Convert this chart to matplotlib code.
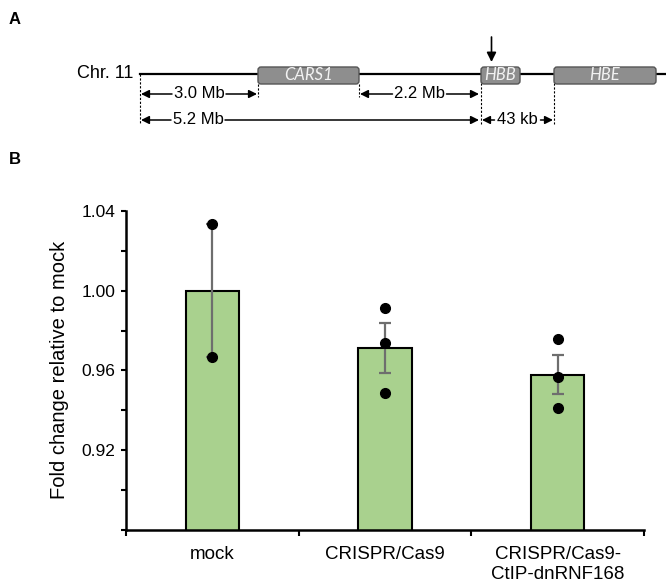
import matplotlib.pyplot as plt
from matplotlib.patches import FancyBboxPatch
from matplotlib.ticker import MultipleLocator, FixedLocator, NullFormatter
import numpy as np

plt.rcParams.update({
    'font.family': ['Liberation Sans', 'DejaVu Sans'],
    'font.size': 13,
})

# ---- panel B data ----
categorias = ['mock', 'CRISPR/Cas9', 'CRISPR/Cas9-\nCtIP-dnRNF168']
medias = [1.000, 0.9714, 0.9578]
erros = [0.0333, 0.0125, 0.0099]
replicatas = [[1.0335, 0.9669],
              [0.9912, 0.9738, 0.9488],
              [0.9758, 0.9568, 0.9412]]

# ---- panel A schematic (pixel layout of the locus drawing) ----
genes = ['CARS1', 'HBB', 'HBE']
gene_ini = [258, 481, 554]
gene_fim = [359, 520, 656]
dist_txt = ['3.0 Mb', '2.2 Mb', '5.2 Mb', '43 kb']
dist_ini = [141, 360, 141, 482]
dist_fim = [257, 479, 479, 553]
dist_y = [94, 94, 120, 120]

fig = plt.figure(figsize=(6.66, 5.88), dpi=100)

# painel A em coordenadas de pixel
axA = fig.add_axes([0, 0, 1, 1])
axA.set_xlim(0, 666)
axA.set_ylim(588, 0)
axA.axis('off')

axA.text(9, 20, 'A', fontsize=12, fontweight='bold', va='center', ha='left')
axA.text(9, 159, 'B', fontsize=12, fontweight='bold', va='center', ha='left')

linha_y = 74
axA.plot([140, 666], [linha_y, linha_y], color='black', lw=1.6, zorder=1)
axA.text(133, linha_y, 'Chr. 11', ha='right', va='center', fontsize=13)

for nome, a, b in zip(genes, gene_ini, gene_fim):
    caixa = FancyBboxPatch((a, 67), b - a, 17,
                           boxstyle='round,pad=0,rounding_size=3',
                           facecolor='#8e8e8e', edgecolor='#555555', lw=1.0, zorder=3)
    axA.add_patch(caixa)
    axA.text((a + b) / 2, 75, nome, ha='center', va='center', color='#f2f2f2',
             fontsize=12, style='italic', family='Lato', zorder=4)

# seta acima de HBB
axA.annotate('', xy=(491.5, 62), xytext=(491.5, 37),
             arrowprops=dict(arrowstyle='-|>', color='black', lw=1.2,
                             mutation_scale=14, shrinkA=0, shrinkB=0))

# linhas tracejadas
tracejadas = [(140, 74, 124), (258, 84, 97), (359, 84, 97), (481, 83, 124), (554, 83, 124)]
for x, y0, y1 in tracejadas:
    axA.plot([x, x], [y0, y1], color='black', lw=0.8, ls=(0, (2, 1.5)))

seta = dict(arrowstyle='-|>', color='black', lw=1.1, mutation_scale=12,
            shrinkA=0, shrinkB=0)
meias = {'3.0 Mb': 27, '2.2 Mb': 27, '5.2 Mb': 27, '43 kb': 23}
for txt, a, b, y in zip(dist_txt, dist_ini, dist_fim, dist_y):
    if txt == '5.2 Mb':
        xc = 198
    else:
        xc = (a + b) / 2
    axA.text(xc, y, txt, ha='center', va='center', fontsize=12)
    meia = meias[txt]
    axA.annotate('', xy=(a, y), xytext=(xc - meia, y), arrowprops=seta)
    axA.annotate('', xy=(b, y), xytext=(xc + meia, y), arrowprops=seta)

# painel B
ax = fig.add_axes([126 / 666, 1 - 529.7 / 588, 518 / 666, 318.7 / 588])
ax.patch.set_alpha(0)
x = np.arange(len(categorias))

ax.bar(x, medias, width=0.31, color='#a9d18e', edgecolor='black', lw=1.5, zorder=2)
ax.errorbar(x, medias, yerr=erros, fmt='none', ecolor='#6e6e6e', elinewidth=1.6,
            capsize=4.5, capthick=1.6, zorder=3)
for i, pts in enumerate(replicatas):
    ax.plot([x[i]] * len(pts), pts, 'o', color='black', ms=7, zorder=4)

ax.set_xlim(-0.5, 2.5)
ax.set_ylim(0.88, 1.04)
ax.set_yticks([0.88, 0.92, 0.96, 1.00, 1.04])
ax.set_yticklabels(['', '0.92', '0.96', '1.00', '1.04'])
ax.yaxis.set_minor_locator(MultipleLocator(0.02))
ax.tick_params(axis='y', which='both', direction='out', length=3.5, width=1.5, pad=4, labelsize=12.5)

ax.xaxis.set_major_locator(FixedLocator([-0.5, 0.5, 1.5, 2.5]))
ax.xaxis.set_major_formatter(NullFormatter())
ax.xaxis.set_minor_locator(FixedLocator(x))
ax.set_xticklabels(categorias, minor=True, linespacing=1.2)
ax.tick_params(axis='x', which='major', direction='out', length=4, width=1.5)
ax.tick_params(axis='x', which='minor', length=0, pad=12, labelsize=13.5)

for s in ['top', 'right']:
    ax.spines[s].set_visible(False)
for s in ['left', 'bottom']:
    ax.spines[s].set_linewidth(1.8)

ax.set_ylabel('Fold change relative to mock', fontsize=14.5, labelpad=9)

plt.savefig('out.png', dpi=100)
